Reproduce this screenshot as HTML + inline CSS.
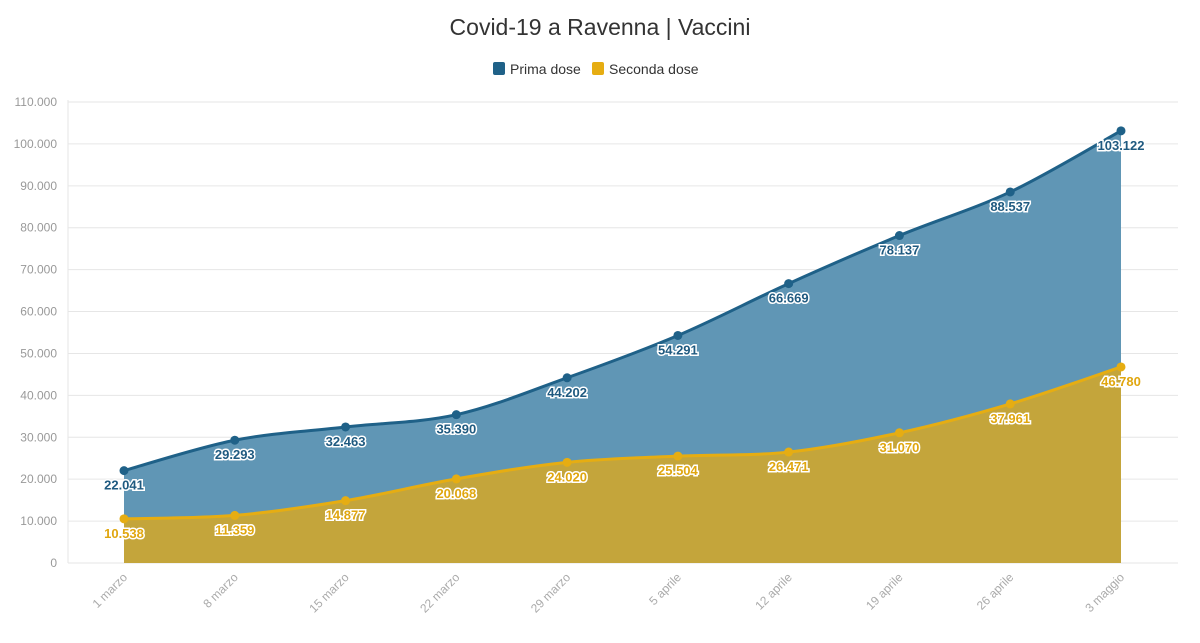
<!DOCTYPE html>
<html><head><meta charset="utf-8"><style>
body{margin:0;background:#fff;font-family:"Liberation Sans",sans-serif;}
svg text{font-family:"Liberation Sans",sans-serif;}
</style></head><body>
<svg id="chart" width="1200" height="638" viewBox="0 0 1200 638">
<text x="600" y="35" text-anchor="middle" font-size="23" fill="#333">Covid-19 a Ravenna | Vaccini</text>
<g>
<g><rect x="493" y="62" width="12" height="13" rx="2" fill="#1f6188"/><text x="510" y="74" font-size="14" fill="#333">Prima dose</text></g>
<g><rect x="592" y="62" width="12" height="13" rx="2" fill="#e6ad12"/><text x="609" y="74" font-size="14" fill="#333">Seconda dose</text></g>
</g>
<g id="grid"></g><g id="areas"></g><g id="labels"></g>
</svg>
<script>
const categories=["1 marzo","8 marzo","15 marzo","22 marzo","29 marzo","5 aprile","12 aprile","19 aprile","26 aprile","3 maggio"];
const prima=[22041,29293,32463,35390,44202,54291,66669,78137,88537,103122];
const seconda=[10538,11359,14877,20068,24020,25504,26471,31070,37961,46780];
const yTicks=[0,10000,20000,30000,40000,50000,60000,70000,80000,90000,100000,110000];
const NS="http://www.w3.org/2000/svg";
const x=i=>124+i*(1121-124)/(categories.length-1);
const y=v=>563-v*461/110000;
const fmt=v=>v.toString().replace(/\B(?=(\d{3})+(?!\d))/g,".");
function mk(t,a,p){const e=document.createElementNS(NS,t);for(const k in a)e.setAttribute(k,a[k]);p.appendChild(e);return e;}
const grid=document.getElementById('grid'),areas=document.getElementById('areas'),labels=document.getElementById('labels');
yTicks.forEach(t=>{
 const l=mk('line',{x1:68,x2:1178,y1:y(t),y2:y(t),stroke:'#e6e6e6','stroke-width':1},grid);
 
 
 const tx=mk('text',{x:57,y:y(t)+4,'text-anchor':'end','font-size':12,fill:'#999'},grid);
 tx.textContent=fmt(t);
 
 
});
mk('line',{x1:68,x2:68,y1:100,y2:563,stroke:'#e6e6e6'},grid);
categories.forEach((c,i)=>{
 const tx=mk('text',{x:x(i)+4,y:578,'text-anchor':'end','font-size':12,fill:'#aaa',transform:`rotate(-45 ${x(i)+4} 578)`},grid);
 tx.textContent=c;
 
 
});
function curve(vals){
 const p=vals.map((v,i)=>[x(i),y(v)]);let d=`M${p[0][0]},${p[0][1]}`;
 for(let i=0;i<p.length-1;i++){const p0=p[i-1]||p[i],p1=p[i],p2=p[i+1],p3=p[i+2]||p2;
  const c1=[p1[0]+(p2[0]-p0[0])/6,p1[1]+(p2[1]-p0[1])/6],c2=[p2[0]-(p3[0]-p1[0])/6,p2[1]-(p3[1]-p1[1])/6];
  d+=` C${c1[0]},${c1[1]} ${c2[0]},${c2[1]} ${p2[0]},${p2[1]}`;}
 return d;}
function series(vals,fill,line,lc,name){
 const c=curve(vals);
 const a=mk('path',{d:c+` L${x(vals.length-1)},563 L${x(0)},563 Z`,fill:fill},areas);
 
 
 const l=mk('path',{d:c,fill:'none',stroke:line,'stroke-width':3},areas);
 
 
 vals.forEach((v,i)=>{
  const pt=mk('circle',{cx:x(i),cy:y(v),r:4.5,fill:line},areas);
  
  
  const t=mk('text',{x:x(i),y:y(v)+19,'text-anchor':'middle','font-size':13,'font-weight':'bold',fill:lc,stroke:'#fff','stroke-width':3,'paint-order':'stroke'},labels);
  t.textContent=fmt(v);
  
  
 });
}
series(prima,'#6096b5','#1f6188','#1f5a80','prima-dose');
series(seconda,'#c4a53b','#e6ad12','#e0a60e','seconda-dose');
</script>
</body></html>
